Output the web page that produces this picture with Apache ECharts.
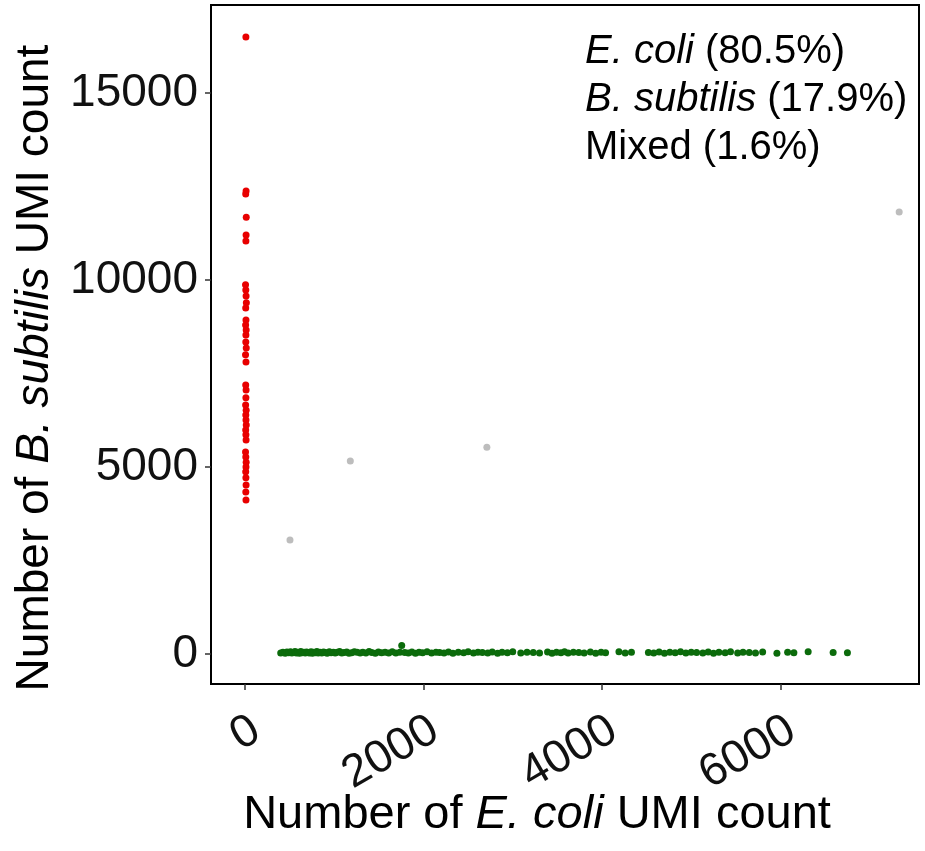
<!DOCTYPE html>
<html>
<head>
<meta charset="utf-8">
<title>E. coli vs B. subtilis UMI counts</title>
<script src="https://cdn.jsdelivr.net/npm/echarts@6/dist/echarts.min.js"></script>
<style>
  html, body { margin: 0; padding: 0; background: #fff; }
  #chart { width: 925px; height: 851px; }
</style>
</head>
<body>
<div id="chart"></div>
<script>
// tick labels
const xTicks = [0, 2000, 4000, 6000];
const yTicks = [0, 5000, 10000, 15000];

// B. subtilis cells (red): E. coli count, B. subtilis count
const bsubX = [10, 12, 8, 14, 12, 10, 6, 9, 12, 15, 8, 11, 7, 13, 10, 9, 14, 6, 11, 8,
  12, 10, 7, 13, 9, 11, 14, 8, 10, 12, 6, 9, 13, 11, 8, 10, 12, 9, 11];
const bsubY = [16500, 12380, 12300, 11680, 11200, 11040, 9870, 9730, 9570, 9390, 9250,
  8930, 8800, 8660, 8530, 8340, 8180, 8000, 7810, 7190, 7060, 6850, 6660, 6520, 6390,
  6260, 6120, 5990, 5860, 5720, 5400, 5270, 5130, 5000, 4870, 4710, 4520, 4330, 4120];

// E. coli cells (green), ten per row, rows of ecoliX and ecoliY line up
const ecoliX = [
  400, 425, 450, 470, 490, 510, 525, 540, 560, 575,
  590, 610, 625, 640, 660, 675, 690, 705, 720, 740,
  755, 770, 790, 805, 820, 840, 860, 880, 900, 920,
  945, 965, 990, 1010, 1035, 1060, 1085, 1110, 1140, 1165,
  1195, 1225, 1255, 1290, 1320, 1355, 1390, 1420, 1460, 1495,
  1530, 1570, 1610, 1650, 1690, 1735, 1756, 1790, 1830, 1870,
  1910, 1950, 1990, 2040, 2090, 2140, 2180, 2230, 2280, 2330,
  2390, 2450, 2500, 2560, 2610, 2660, 2720, 2770, 2830, 2880,
  2940, 3000, 3090, 3160, 3230, 3300, 3390, 3440, 3490, 3540,
  3580, 3620, 3680, 3740, 3800, 3870, 3930, 3990, 4040, 4190,
  4260, 4330, 4520, 4580, 4640, 4700, 4760, 4820, 4880, 4940,
  5000, 5060, 5130, 5190, 5250, 5310, 5380, 5440, 5520, 5580,
  5650, 5720, 5800, 5960, 6080, 6150, 6310, 6590, 6750];
const ecoliY = [
  30, 45, 20, 55, 35, 60, 25, 40, 70, 30,
  50, 20, 65, 35, 45, 25, 55, 40, 30, 60,
  20, 50, 35, 70, 25, 45, 30, 55, 40, 20,
  60, 35, 50, 25, 45, 70, 30, 40, 55, 20,
  35, 60, 45, 25, 50, 30, 65, 40, 20, 55,
  35, 45, 30, 60, 25, 50, 230, 40, 30, 55,
  20, 45, 35, 60, 25, 50, 40, 30, 55, 20,
  45, 35, 60, 25, 50, 40, 30, 55, 20, 45,
  35, 60, 25, 50, 40, 30, 55, 20, 45, 35,
  60, 25, 50, 40, 30, 55, 20, 45, 35, 60,
  25, 50, 40, 30, 55, 20, 45, 35, 60, 25,
  50, 40, 30, 55, 20, 45, 35, 60, 25, 50,
  40, 30, 55, 20, 45, 35, 60, 40, 35];

// mixed cells (grey)
const mixedX = [504, 1180, 2710, 7330];
const mixedY = [3050, 5160, 5530, 11820];

const legendLines = [
  { species: 'E. coli', pct: '(80.5%)' },
  { species: 'B. subtilis', pct: '(17.9%)' },
  { species: null, label: 'Mixed', pct: '(1.6%)' },
];

const FONT = 'Arial, "Liberation Sans", sans-serif';
const zip = (xs, ys) => xs.map((x, i) => [x, ys[i]]);
const richStyles = (size, lineHeight) => ({
  n: { fontFamily: FONT, fontSize: size, color: '#111', lineHeight },
  it: { fontFamily: FONT, fontSize: size, fontStyle: 'italic', color: '#111', lineHeight },
});

const chart = echarts.init(document.getElementById('chart'), null, { renderer: 'canvas' });

const legendText = legendLines
  .map((l) => (l.species ? `{it|${l.species}}{n| ${l.pct}}` : `{n|${l.label} ${l.pct}}`))
  .join('\n');

const axisCommon = {
  type: 'value',
  splitLine: { show: false },
  axisLine: { show: false, onZero: false },
};

chart.setOption({
  animation: false,
  backgroundColor: '#fff',
  grid: {
    left: 211, right: 6, top: 5, bottom: 167,
    outerBoundsMode: 'none',
    containLabel: false,
    show: true, borderColor: '#000', borderWidth: 2, backgroundColor: 'transparent',
  },
  xAxis: {
    ...axisCommon,
    min: -381,
    max: 7552,
    axisTick: { show: true, length: 6, customValues: xTicks, lineStyle: { color: '#333', width: 1.5 } },
    axisLabel: {
      customValues: xTicks,
      formatter: (v) => String(v),
      rotate: 30,
      align: 'right',
      verticalAlign: 'top',
      margin: 23,
      fontFamily: FONT,
      fontSize: 46,
      color: '#111',
    },
  },
  yAxis: {
    ...axisCommon,
    min: -802,
    max: 17353,
    axisTick: { show: true, length: 6, customValues: yTicks, lineStyle: { color: '#333', width: 1.5 } },
    axisLabel: {
      customValues: yTicks,
      formatter: (v) => String(v),
      margin: 13,
      fontFamily: FONT,
      fontSize: 46,
      color: '#111',
    },
  },
  graphic: [
    {
      type: 'text',
      left: 585,
      top: 28,
      style: {
        text: legendText,
        lineHeight: 48,
        rich: richStyles(40, 48),
      },
    },
    {
      // x-axis title
      type: 'text',
      x: 537,
      y: 815,
      style: {
        text: '{n|Number of }{it|E. coli}{n| UMI count}',
        align: 'center',
        verticalAlign: 'middle',
        rich: richStyles(47),
      },
    },
    {
      // y-axis title
      type: 'text',
      x: 35,
      y: 368,
      rotation: Math.PI / 2,
      style: {
        text: '{n|Number of }{it|B. subtilis}{n| UMI count}',
        align: 'center',
        verticalAlign: 'middle',
        rich: richStyles(46),
      },
    },
  ],
  series: [
    {
      name: 'Mixed',
      type: 'scatter',
      data: zip(mixedX, mixedY),
      symbolSize: 7,
      itemStyle: { color: '#bdbdbd', opacity: 1 },
    },
    {
      name: 'B. subtilis',
      type: 'scatter',
      data: zip(bsubX, bsubY),
      symbolSize: 7,
      itemStyle: { color: '#e80000', opacity: 1 },
    },
    {
      name: 'E. coli',
      type: 'scatter',
      data: zip(ecoliX, ecoliY),
      symbolSize: 7,
      itemStyle: { color: '#0b6b0b', opacity: 1 },
    },
  ],
});
</script>
</body>
</html>
